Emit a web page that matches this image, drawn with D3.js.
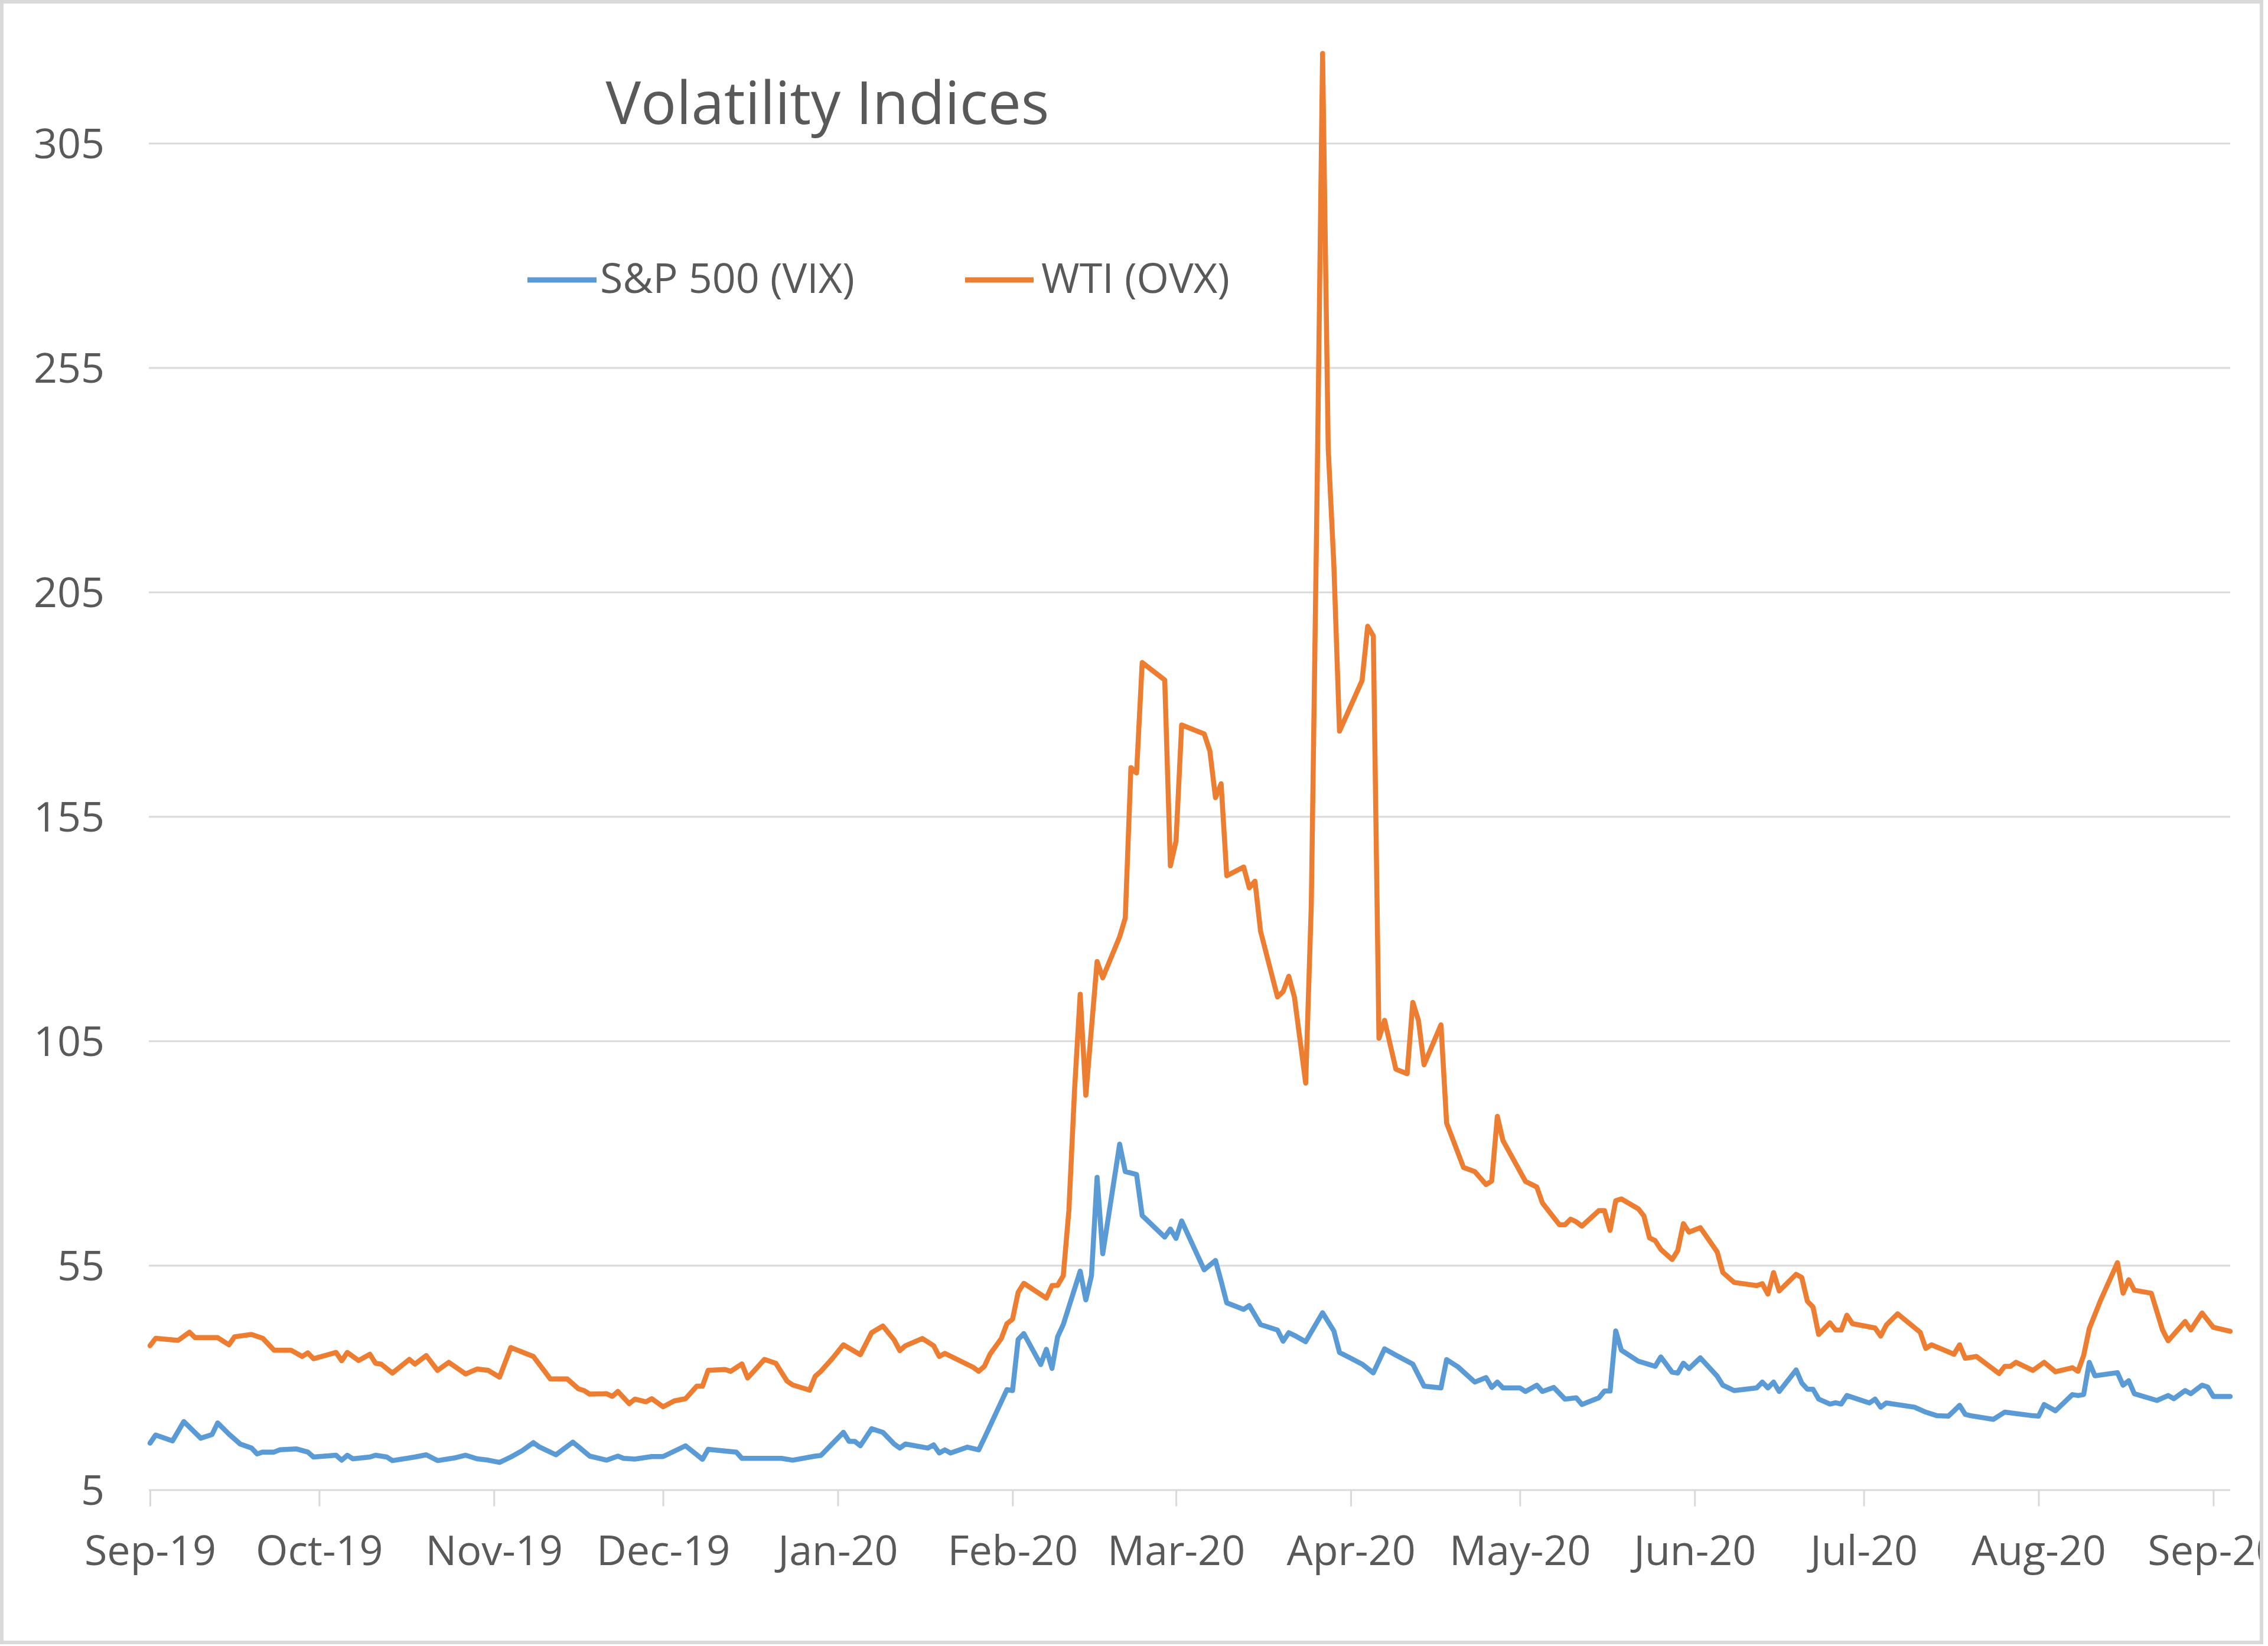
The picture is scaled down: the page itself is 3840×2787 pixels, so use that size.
<!DOCTYPE html>
<html>
<head>
<meta charset="utf-8">
<script src="https://cdn.jsdelivr.net/npm/d3@7"></script>
<style>
  html, body { margin: 0; padding: 0; background: #ffffff; }
  svg { display: block; }
</style>
</head>
<body>
<div id="chart"></div>
<script>
// ---------------- DATA ----------------
const chartTitle = "Volatility Indices";
const seriesNames = ["S&P 500 (VIX)", "WTI (OVX)"];
const seriesColors = ["#5B9BD5", "#ED7D31"];

const yTicks = [5, 55, 105, 155, 205, 255, 305];
const xTickDates = ["2019-09-01","2019-10-01","2019-11-01","2019-12-01","2020-01-01","2020-02-01",
  "2020-03-01","2020-04-01","2020-05-01","2020-06-01","2020-07-01","2020-08-01","2020-09-01"];
const xTickLabels = ["Sep-19","Oct-19","Nov-19","Dec-19","Jan-20","Feb-20","Mar-20","Apr-20",
  "May-20","Jun-20","Jul-20","Aug-20","Sep-20"];

// S&P 500 volatility (VIX)
const vixDates = [
  "2019-09-01","2019-09-02","2019-09-05","2019-09-07","2019-09-10","2019-09-12","2019-09-13","2019-09-15","2019-09-17","2019-09-19","2019-09-20","2019-09-21","2019-09-23","2019-09-24","2019-09-27","2019-09-29","2019-09-30",
  "2019-10-04","2019-10-05","2019-10-06","2019-10-07","2019-10-10","2019-10-11","2019-10-13","2019-10-14","2019-10-18","2019-10-20","2019-10-22","2019-10-25","2019-10-27","2019-10-29","2019-10-31",
  "2019-11-02","2019-11-04","2019-11-06","2019-11-08","2019-11-09","2019-11-12","2019-11-15","2019-11-16","2019-11-18","2019-11-21","2019-11-23","2019-11-24","2019-11-26","2019-11-29",
  "2019-12-01","2019-12-05","2019-12-08","2019-12-09","2019-12-14","2019-12-15","2019-12-22","2019-12-24","2019-12-28","2019-12-29",
  "2020-01-02","2020-01-03","2020-01-04","2020-01-05","2020-01-07","2020-01-09","2020-01-11","2020-01-12","2020-01-13","2020-01-17","2020-01-18","2020-01-19","2020-01-20","2020-01-21","2020-01-24","2020-01-26","2020-01-27","2020-01-31",
  "2020-02-01","2020-02-02","2020-02-03","2020-02-06","2020-02-07","2020-02-08","2020-02-09","2020-02-10","2020-02-13","2020-02-14","2020-02-15","2020-02-16","2020-02-17","2020-02-20","2020-02-21","2020-02-23","2020-02-24","2020-02-28","2020-02-29",
  "2020-03-01","2020-03-02","2020-03-06","2020-03-08","2020-03-09","2020-03-10","2020-03-13","2020-03-14","2020-03-16","2020-03-19","2020-03-20","2020-03-21","2020-03-22","2020-03-24","2020-03-27","2020-03-28","2020-03-29","2020-03-30",
  "2020-04-03","2020-04-05","2020-04-07","2020-04-09","2020-04-12","2020-04-14","2020-04-17","2020-04-18","2020-04-20","2020-04-23","2020-04-25","2020-04-26","2020-04-27","2020-04-28",
  "2020-05-01","2020-05-02","2020-05-04","2020-05-05","2020-05-07","2020-05-09","2020-05-11","2020-05-12","2020-05-15","2020-05-16","2020-05-17","2020-05-18","2020-05-19","2020-05-22","2020-05-25","2020-05-26","2020-05-28","2020-05-29","2020-05-30","2020-05-31",
  "2020-06-02","2020-06-05","2020-06-06","2020-06-08","2020-06-12","2020-06-13","2020-06-14","2020-06-15","2020-06-16","2020-06-19","2020-06-20","2020-06-21","2020-06-22","2020-06-23","2020-06-25","2020-06-26","2020-06-27","2020-06-28",
  "2020-07-02","2020-07-03","2020-07-04","2020-07-05","2020-07-10","2020-07-12","2020-07-14","2020-07-16","2020-07-18","2020-07-19","2020-07-20","2020-07-24","2020-07-26","2020-07-31",
  "2020-08-01","2020-08-02","2020-08-04","2020-08-07","2020-08-08","2020-08-09","2020-08-10","2020-08-11","2020-08-15","2020-08-16","2020-08-17","2020-08-18","2020-08-22","2020-08-24","2020-08-25","2020-08-27","2020-08-28","2020-08-30","2020-08-31",
  "2020-09-01","2020-09-04"
];
const vixValues = [
  15.4,17.2,15.9,20.2,16.5,17.3,19.9,17.4,15.2,14.3,13.0,13.4,13.4,13.9,14.1,13.4,12.3,
  12.7,11.6,12.7,11.9,12.3,12.7,12.3,11.5,12.3,12.8,11.5,12.1,12.7,11.9,11.6,
  11.1,12.3,13.7,15.5,14.6,12.8,15.6,14.6,12.5,11.6,12.5,12.0,11.85,12.4,
  12.4,14.8,11.8,14.0,13.4,12.0,12.0,11.6,12.5,12.65,
  17.8,15.8,15.8,14.8,18.6,17.8,15.2,14.3,15.2,14.3,15.0,13.2,13.9,13.2,14.5,13.9,16.5,27.3,
  27.1,38.5,39.8,32.9,36.3,32.05,39.1,41.8,53.7,47.3,52.7,74.6,57.6,82.0,75.9,75.25,66.1,61.3,63.1,
  61.0,64.9,54.0,56.1,51.5,46.65,45.2,46.05,41.8,40.6,38.1,40.0,39.4,38.0,44.45,42.4,40.4,35.6,
  33.0,31.05,36.4,35.0,33.0,28.1,27.7,34.0,32.4,29.0,30.0,27.8,29.0,27.7,
  27.7,26.9,28.3,26.9,27.8,25.2,25.5,24.0,25.5,27.0,27.0,40.4,36.1,33.65,32.5,34.6,31.2,31.0,33.2,32.0,
  34.4,30.3,28.3,27.1,27.7,29.0,27.7,29.0,26.9,31.7,28.8,27.4,27.4,25.2,24.1,24.4,24.1,26.0,
  24.35,25.2,23.4,24.35,23.4,22.3,21.5,21.4,23.8,21.8,21.5,20.7,22.3,21.5,
  21.4,24.0,22.6,26.2,26.0,26.2,33.4,30.4,31.1,28.3,29.3,26.4,24.9,26.0,25.3,27.1,26.4,28.3,27.9,
  25.8,25.8
];

// WTI crude oil volatility (OVX)
const ovxDates = [
  "2019-09-01","2019-09-02","2019-09-06","2019-09-08","2019-09-09","2019-09-13","2019-09-15","2019-09-16","2019-09-19","2019-09-21","2019-09-23","2019-09-26","2019-09-28","2019-09-29","2019-09-30",
  "2019-10-04","2019-10-05","2019-10-06","2019-10-08","2019-10-10","2019-10-11","2019-10-12","2019-10-14","2019-10-17","2019-10-18","2019-10-20","2019-10-22","2019-10-24","2019-10-27","2019-10-29","2019-10-31",
  "2019-11-02","2019-11-04","2019-11-08","2019-11-10","2019-11-11","2019-11-14","2019-11-16","2019-11-17","2019-11-18","2019-11-21","2019-11-22","2019-11-23","2019-11-25","2019-11-26","2019-11-28","2019-11-29",
  "2019-12-01","2019-12-03","2019-12-05","2019-12-07","2019-12-08","2019-12-09","2019-12-12","2019-12-13","2019-12-15","2019-12-16","2019-12-19","2019-12-21","2019-12-23","2019-12-24","2019-12-27","2019-12-28","2019-12-29","2019-12-31",
  "2020-01-02","2020-01-05","2020-01-07","2020-01-09","2020-01-11","2020-01-12","2020-01-13","2020-01-16","2020-01-18","2020-01-19","2020-01-20","2020-01-25","2020-01-26","2020-01-27","2020-01-28","2020-01-30","2020-01-31",
  "2020-02-01","2020-02-02","2020-02-03","2020-02-07","2020-02-08","2020-02-09","2020-02-10","2020-02-11","2020-02-12","2020-02-13","2020-02-14","2020-02-16","2020-02-17","2020-02-20","2020-02-21","2020-02-22","2020-02-23","2020-02-24","2020-02-28","2020-02-29",
  "2020-03-01","2020-03-02","2020-03-06","2020-03-07","2020-03-08","2020-03-09","2020-03-10","2020-03-13","2020-03-14","2020-03-15","2020-03-16","2020-03-19","2020-03-20","2020-03-21","2020-03-22","2020-03-24","2020-03-25","2020-03-26","2020-03-27","2020-03-28","2020-03-29","2020-03-30",
  "2020-04-03","2020-04-04","2020-04-05","2020-04-06","2020-04-07","2020-04-09","2020-04-11","2020-04-12","2020-04-13","2020-04-14","2020-04-17","2020-04-18","2020-04-21","2020-04-23","2020-04-25","2020-04-26","2020-04-27","2020-04-28",
  "2020-05-02","2020-05-04","2020-05-05","2020-05-08","2020-05-09","2020-05-10","2020-05-11","2020-05-12","2020-05-15","2020-05-16","2020-05-17","2020-05-18","2020-05-19","2020-05-22","2020-05-23","2020-05-24","2020-05-25","2020-05-26","2020-05-28","2020-05-29","2020-05-30","2020-05-31",
  "2020-06-02","2020-06-05","2020-06-06","2020-06-08","2020-06-12","2020-06-13","2020-06-14","2020-06-15","2020-06-16","2020-06-19","2020-06-20","2020-06-21","2020-06-22","2020-06-23","2020-06-25","2020-06-26","2020-06-27","2020-06-28","2020-06-29",
  "2020-07-03","2020-07-04","2020-07-05","2020-07-07","2020-07-11","2020-07-12","2020-07-13","2020-07-17","2020-07-18","2020-07-19","2020-07-21","2020-07-25","2020-07-26","2020-07-27","2020-07-28","2020-07-31",
  "2020-08-02","2020-08-04","2020-08-07","2020-08-08","2020-08-09","2020-08-10","2020-08-12","2020-08-15","2020-08-16","2020-08-17","2020-08-18","2020-08-21","2020-08-23","2020-08-24","2020-08-27","2020-08-28","2020-08-30",
  "2020-09-01","2020-09-04"
];
const ovxValues = [
  37.1,38.75,38.3,40.1,38.9,38.9,37.3,39.1,39.6,38.75,36.1,36.1,34.7,35.5,34.2,
  35.6,33.75,35.6,33.8,35.2,33.2,33.0,31.0,34.05,33.0,34.9,31.6,33.4,30.8,31.9,31.6,
  30.1,36.7,34.7,31.4,29.7,29.7,27.5,27.1,26.3,26.4,25.8,26.9,24.2,25.2,24.6,25.3,
  23.5,24.8,25.3,28.1,28.1,31.6,31.8,31.4,33.05,29.9,34.05,33.2,29.2,28.35,27.2,30.3,31.4,34.2,
  37.3,35.1,40.0,41.5,38.4,36.0,37.1,38.7,37.1,34.7,35.4,32.3,31.4,32.5,35.2,38.7,42.0,
  43.0,49.0,51.0,47.7,50.5,50.55,52.7,67.3,94.1,115.4,92.9,122.7,119.05,128.2,132.4,165.9,164.7,189.3,185.4,144.0,
  149.5,175.4,173.4,169.6,159.2,162.3,141.8,143.75,139.1,140.6,129.4,114.8,116.0,119.4,114.8,95.6,135.5,225.0,325.0,237.0,211.0,174.0,
  185.3,197.4,195.2,105.6,109.6,98.7,97.7,113.6,109.6,99.7,108.6,86.7,76.8,75.9,73.0,73.8,88.2,82.8,
  73.7,72.45,68.9,64.05,64.05,65.3,64.7,63.75,67.2,67.2,62.8,69.4,69.8,67.6,66.0,61.1,60.5,58.55,56.3,58.3,64.3,62.4,
  63.4,58.0,53.4,51.2,50.5,50.9,48.6,53.4,49.3,53.0,52.3,47.0,45.7,39.6,42.2,40.6,40.6,43.9,42.0,
  41.05,39.25,41.7,44.2,40.1,36.5,37.3,35.2,37.3,34.3,34.7,30.9,32.5,32.5,33.4,31.6,
  33.4,31.3,32.2,31.4,34.9,40.9,47.2,55.6,48.8,51.8,49.45,48.8,40.6,38.2,42.5,40.6,44.4,
  41.2,40.3
];

// ---------------- CHART ----------------
const W = 3840, H = 2787;
const font = "'Open Sans', 'Noto Sans', 'DejaVu Sans', sans-serif";
const textColor = "#595959";
const gridColor = "#d9d9d9";
const parse = d3.utcParse("%Y-%m-%d");

const xLeft = 254, xRight = 3776, gridLeft = 252;
const x = d3.scaleUtc()
  .domain([parse("2019-09-01"), parse("2020-09-04")])
  .range([xLeft, xRight]);
const y = d3.scaleLinear().domain([5, 325]).range([2522.5, 90.5]);

const svg = d3.select("#chart").append("svg")
  .attr("width", W).attr("height", H)
  .attr("viewBox", `0 0 ${W} ${H}`)
  .style("font-family", font);

svg.append("rect").attr("width", W).attr("height", H).attr("fill", "#ffffff");

const defs = svg.append("defs");
defs.append("clipPath").attr("id", "chartClip")
  .append("rect").attr("x", 0).attr("y", 0).attr("width", 3826).attr("height", 2778);

// Y axis + gridlines
const yAxis = d3.axisLeft(y)
  .tickValues(yTicks)
  .tickFormat(d3.format("d"))
  .tickSize(-(xRight - gridLeft))
  .tickPadding(75);
const gy = svg.append("g").attr("transform", `translate(${gridLeft},0)`).call(yAxis);
gy.select(".domain").remove();
gy.selectAll(".tick line").attr("stroke", gridColor).attr("stroke-width", 3);
gy.selectAll(".tick text")
  .attr("fill", textColor).attr("font-size", 70).attr("font-family", font)
  .attr("dy", "0.36em");

// X axis (ticks + labels), clipped by the chart area like the reference
const gxWrap = svg.append("g").attr("clip-path", "url(#chartClip)");
const tickDates = xTickDates.map(parse);
const xAxis = d3.axisBottom(x)
  .tickValues(tickDates)
  .tickFormat((d, i) => xTickLabels[i])
  .tickSizeInner(28).tickSizeOuter(0)
  .tickPadding(50);
const gx = gxWrap.append("g")
  .attr("transform", `translate(0,${y(5)})`)
  .call(xAxis);
gx.select(".domain").remove();
gx.selectAll(".tick line").attr("stroke", gridColor).attr("stroke-width", 3);
gx.selectAll(".tick text")
  .attr("fill", textColor).attr("font-size", 70).attr("font-family", font);

// Lines
const series = [
  { name: seriesNames[0], color: seriesColors[0], data: vixDates.map((d, i) => ({ date: parse(d), value: vixValues[i] })) },
  { name: seriesNames[1], color: seriesColors[1], data: ovxDates.map((d, i) => ({ date: parse(d), value: ovxValues[i] })) }
];
const line = d3.line().x(d => x(d.date)).y(d => y(d.value)).curve(d3.curveLinear);
svg.append("g").selectAll("path").data(series).join("path")
  .attr("d", s => line(s.data))
  .attr("fill", "none")
  .attr("stroke", s => s.color)
  .attr("stroke-width", 8.5)
  .attr("stroke-linejoin", "round")
  .attr("stroke-linecap", "round");

// Title
svg.append("text")
  .attr("x", 1401).attr("y", 210)
  .attr("text-anchor", "middle")
  .attr("font-size", 100)
  .attr("fill", textColor)
  .text(chartTitle);

// Legend
const legendItems = [
  { x1: 893, x2: 1010, tx: 1016 },
  { x1: 1634, x2: 1750, tx: 1763 }
];
const lg = svg.append("g");
legendItems.forEach((it, i) => {
  lg.append("line")
    .attr("x1", it.x1).attr("x2", it.x2).attr("y1", 474).attr("y2", 474)
    .attr("stroke", seriesColors[i]).attr("stroke-width", 9);
  lg.append("text")
    .attr("x", it.tx).attr("y", 496)
    .attr("font-size", 70).attr("fill", textColor)
    .text(seriesNames[i]);
});

// Chart border
svg.append("rect")
  .attr("x", 3).attr("y", 3).attr("width", 3826).attr("height", 2778)
  .attr("fill", "none").attr("stroke", "#d9d9d9").attr("stroke-width", 6);
</script>
</body>
</html>
